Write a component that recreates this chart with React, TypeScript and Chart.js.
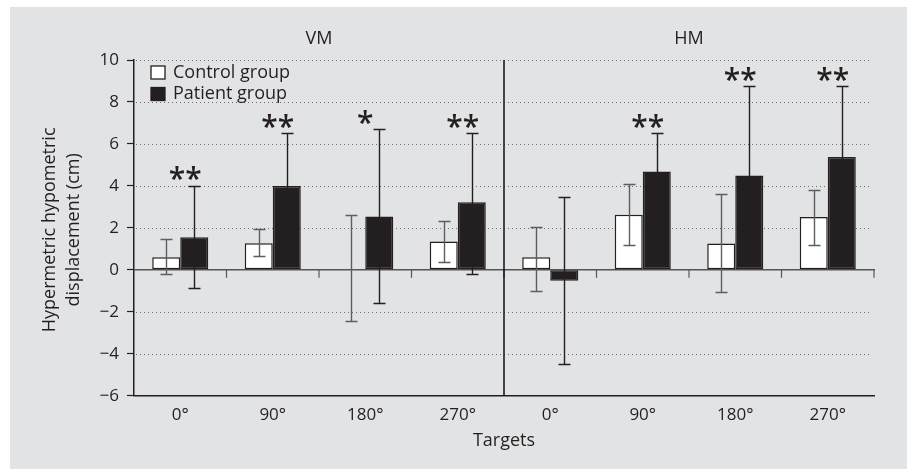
import React, { useEffect, useRef } from "react";
import { Chart, registerables } from "chart.js";

Chart.register(...registerables);

// ---- data ----
const categories = ["0°", "90°", "180°", "270°", "0°", "90°", "180°", "270°"];
const panelTitles = ["VM", "HM"];
const seriesNames = ["Control group", "Patient group"];
const controlMean = [0.6, 1.27, 0, 1.35, 0.6, 2.62, 1.25, 2.52];
const controlLow = [-0.2, 0.67, -2.45, 0.38, -1.0, 1.16, -1.08, 1.16];
const controlHigh = [1.45, 1.95, 2.62, 2.33, 2.03, 4.1, 3.6, 3.79];
const patientMean = [1.55, 4.0, 2.54, 3.22, -0.52, 4.68, 4.5, 5.38];
const patientLow = [-0.88, 1.5, -1.57, -0.21, -4.49, 2.85, 0.3, 2.0];
const patientHigh = [4.0, 6.52, 6.71, 6.52, 3.49, 6.52, 8.74, 8.74];
const significance = ["**", "**", "*", "**", "", "**", "**", "**"];
const yTicks = [-6, -4, -2, 0, 2, 4, 6, 8, 10];
const yTitle = ["Hypermetric hypometric", "displacement (cm)"];
const xTitle = "Targets";

const FONT = "'Open Sans', 'DejaVu Sans', sans-serif";
const INK = "#231f20";

function drawErr(chart: any, dsIndex: number, lows: number[], highs: number[], color: string) {
  const { ctx } = chart;
  const y = chart.scales.y;
  const meta = chart.getDatasetMeta(dsIndex);
  ctx.save();
  ctx.strokeStyle = color;
  ctx.lineWidth = 1.4;
  meta.data.forEach((bar: any, i: number) => {
    const px = Math.round(bar.x) + 0.5;
    const yl = Math.round(y.getPixelForValue(lows[i])) + 0.5;
    const yh = Math.round(y.getPixelForValue(highs[i])) + 0.5;
    ctx.beginPath();
    ctx.moveTo(px, yl);
    ctx.lineTo(px, yh);
    ctx.moveTo(px - 6, yl);
    ctx.lineTo(px + 6, yl);
    ctx.moveTo(px - 6, yh);
    ctx.lineTo(px + 6, yh);
    ctx.stroke();
  });
  ctx.restore();
}

const decorPlugin = {
  id: "decor",
  beforeDraw(chart: any) {
    const { ctx, width, height } = chart;
    ctx.save();
    ctx.fillStyle = "#ffffff";
    ctx.fillRect(0, 0, width, height);
    ctx.fillStyle = "#e2e3e5";
    ctx.fillRect(10, 7, width - 10, height - 7);
    ctx.restore();
  },
  beforeDatasetsDraw(chart: any) {
    const { ctx, chartArea } = chart;
    const y = chart.scales.y;
    ctx.save();
    // dotted grid
    ctx.strokeStyle = "#6d6d6d";
    ctx.lineWidth = 1;
    ctx.setLineDash([1, 3]);
    yTicks.forEach((v) => {
      if (v === 0 || v === -6) return;
      const py = Math.round(y.getPixelForValue(v)) + 0.5;
      ctx.beginPath();
      ctx.moveTo(chartArea.left + 2, py);
      ctx.lineTo(chartArea.right - 2, py);
      ctx.stroke();
    });
    ctx.setLineDash([]);
    // zero line
    const zy = y.getPixelForValue(0);
    ctx.strokeStyle = "#555555";
    ctx.lineWidth = 1.5;
    ctx.beginPath();
    ctx.moveTo(chartArea.left, zy);
    ctx.lineTo(chartArea.right + 1, zy);
    ctx.stroke();
    // category ticks on zero line
    const step = (chartArea.right - chartArea.left) / categories.length;
    ctx.lineWidth = 1.2;
    for (let i = 1; i <= categories.length; i++) {
      const px = chartArea.left + i * step;
      ctx.beginPath();
      ctx.moveTo(px, zy);
      ctx.lineTo(px, zy + 8);
      ctx.stroke();
    }
    ctx.restore();
    // patient error bars go under the black bars
    drawErr(chart, 1, patientLow, patientHigh, INK);
  },
  afterDatasetsDraw(chart: any) {
    const { ctx, chartArea } = chart;
    const y = chart.scales.y;
    const x = chart.scales.x;
    drawErr(chart, 0, controlLow, controlHigh, "#5e5e5e");
    ctx.save();

    // significance stars
    ctx.fillStyle = INK;
    ctx.font = `600 30px ${FONT}`;
    ctx.textAlign = "center";
    ctx.textBaseline = "middle";
    significance.forEach((s, i) => {
      if (!s) return;
      const cx = x.getPixelForValue(i) + (s.length > 1 ? 5 : 0);
      const top = y.getPixelForValue(Math.max(patientHigh[i], controlHigh[i]));
      ctx.fillText(s, cx, top - 5);
    });

    // divider between panels
    const mid = (chartArea.left + chartArea.right) / 2;
    ctx.strokeStyle = "#111111";
    ctx.lineWidth = 1.5;
    ctx.beginPath();
    ctx.moveTo(mid, chartArea.top);
    ctx.lineTo(mid, chartArea.bottom);
    ctx.stroke();

    // panel titles
    ctx.font = `18px ${FONT}`;
    ctx.fillStyle = INK;
    ctx.textBaseline = "middle";
    ctx.fillText(panelTitles[0], (chartArea.left + mid) / 2, 39);
    ctx.fillText(panelTitles[1], (mid + chartArea.right) / 2, 39);

    // x title
    ctx.fillText(xTitle, (chartArea.left + chartArea.right) / 2, 441);

    // y title
    ctx.save();
    ctx.translate(50, (chartArea.top + chartArea.bottom) / 2 + 2);
    ctx.rotate(-Math.PI / 2);
    ctx.fillText(yTitle[0], 0, 0);
    ctx.fillText(yTitle[1], 0, 24);
    ctx.restore();

    // legend
    ctx.lineWidth = 1.3;
    ctx.strokeStyle = INK;
    ctx.fillStyle = "#ffffff";
    ctx.fillRect(151, 66, 14, 13);
    ctx.strokeRect(151, 66, 14, 13);
    ctx.fillStyle = INK;
    ctx.fillRect(151, 87.5, 14, 13);
    ctx.strokeRect(151, 87.5, 14, 13);
    ctx.textAlign = "left";
    ctx.fillText(seriesNames[0], 173, 73);
    ctx.fillText(seriesNames[1], 173, 94);
    ctx.restore();
  },
};

export default function App() {
  const ref = useRef<HTMLCanvasElement | null>(null);
  useEffect(() => {
    if (!ref.current) return;
    const chart = new Chart(ref.current, {
      type: "bar",
      data: {
        labels: categories,
        datasets: [
          {
            label: seriesNames[0],
            data: controlMean,
            backgroundColor: "#ffffff",
            borderColor: INK,
            borderWidth: 1.5,
            borderSkipped: false,
            categoryPercentage: 0.606,
            barPercentage: 1.0,
          },
          {
            label: seriesNames[1],
            data: patientMean,
            backgroundColor: INK,
            borderColor: INK,
            borderWidth: 1.5,
            borderSkipped: false,
            categoryPercentage: 0.606,
            barPercentage: 1.0,
          },
        ],
      },
      options: {
        animation: false,
        responsive: false,
        maintainAspectRatio: false,
        devicePixelRatio: 1,
        layout: { padding: { left: 0, right: 33, top: 60, bottom: 0 } },
        plugins: { legend: { display: false }, tooltip: { enabled: false }, title: { display: false } },
        scales: {
          x: {
            grid: { display: false, drawTicks: false },
            border: { display: true, color: INK, width: 1.5 },
            ticks: {
              color: INK,
              font: { family: FONT, size: 17 },
              padding: 9,
              maxRotation: 0,
            },
            afterFit(scale: any) {
              scale.height = 73.3;
            },
          },
          y: {
            min: -6,
            max: 10,
            afterBuildTicks(scale: any) {
              scale.ticks = yTicks.map((v) => ({ value: v }));
            },
            grid: {
              drawOnChartArea: false,
              drawTicks: true,
              tickLength: 7,
              tickColor: INK,
              tickWidth: 1.2,
            },
            border: { display: true, color: INK, width: 1.5 },
            ticks: {
              color: INK,
              font: { family: FONT, size: 17 },
              padding: 8,
              callback: (v: any) => (Number(v) < 0 ? "\u2212" + Math.abs(Number(v)) : String(v)),
            },
            afterFit(scale: any) {
              scale.width = 134;
            },
          },
        },
      },
      plugins: [decorPlugin],
    } as any);
    return () => chart.destroy();
  }, []);
  return (
    <div style={{ position: "fixed", left: 0, top: 0, width: 907, height: 469 }}>
      <canvas ref={ref} width={907} height={469} style={{ width: 907, height: 469, display: "block" }} />
    </div>
  );
}
